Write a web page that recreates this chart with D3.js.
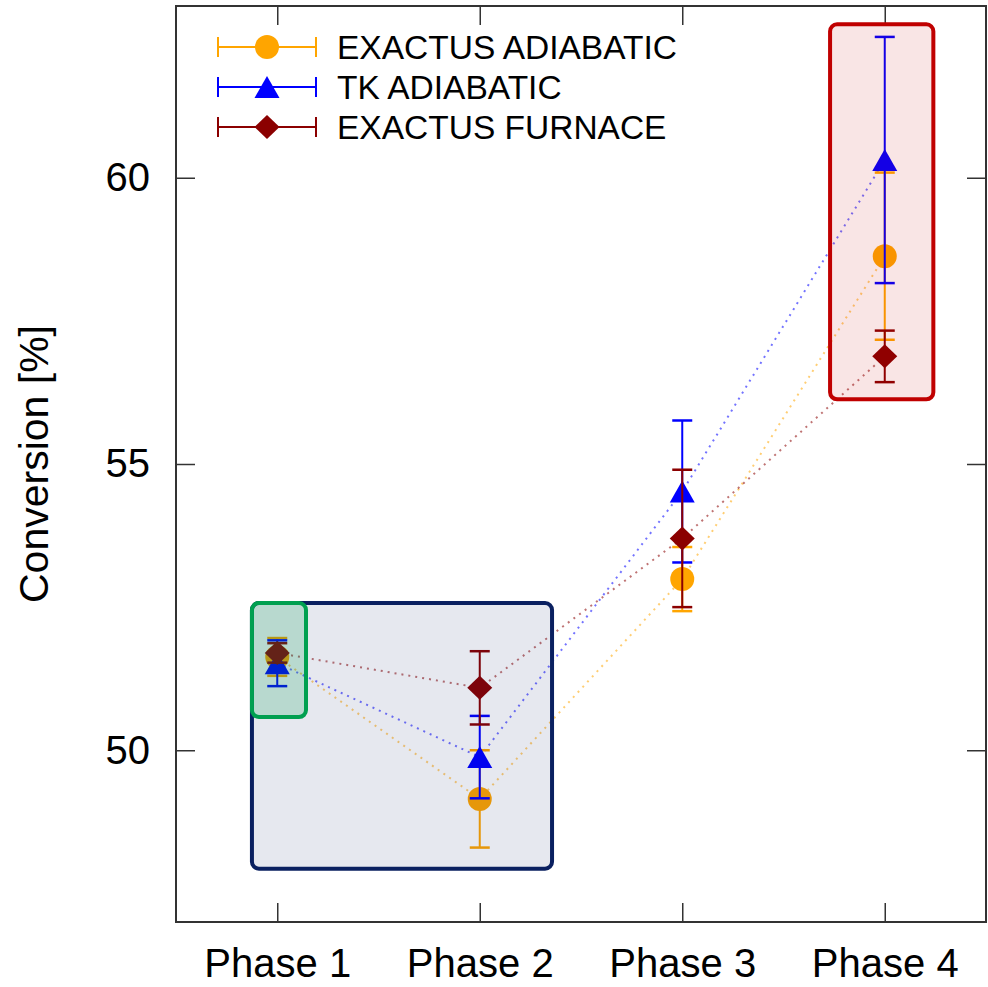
<!DOCTYPE html>
<html>
<head>
<meta charset="utf-8">
<script src="https://cdn.jsdelivr.net/npm/d3@7"></script>
<style>
  body { margin: 0; background: #fff; }
  text { font-family: "Liberation Sans", Arial, sans-serif; }
</style>
</head>
<body>
<svg width="988" height="987"></svg>
<script>
// data
var phases = ["Phase 1", "Phase 2", "Phase 3", "Phase 4"];
var seriesNames = ["EXACTUS ADIABATIC", "TK ADIABATIC", "EXACTUS FURNACE"];
var exactusAdiabatic = [51.63, 49.15, 52.99, 58.63];
var exactusAdiabaticErr = [0.33, 0.85, 0.56, 1.46];
var tkAdiabatic = [51.52, 49.88, 54.52, 60.31];
var tkAdiabaticErr = [0.40, 0.72, 1.24, 2.15];
var exactusFurnace = [51.70, 51.09, 53.70, 56.88];
var exactusFurnaceErr = [0.17, 0.64, 1.20, 0.45];
var yTicks = [50, 55, 60];

// highlight boxes in data units: x range, y range
var highlights = [
  {x: [0.875, 2.357], y: [47.93, 52.57], color: "#0a2060", op: 0.1},
  {x: [0.875, 1.142], y: [50.58, 52.57], color: "#00a050", op: 0.2},
  {x: [3.73, 4.24], y: [56.13, 62.68], color: "#c00000", op: 0.1}
];

var svg = d3.select("svg");
var plotLeft = 176, plotRight = 986, plotTop = 6, plotBottom = 922;

var x = d3.scaleLinear().domain([0.5, 4.5]).range([plotLeft, plotRight]);
var y = d3.scaleLinear().domain([47, 63]).range([plotBottom, plotTop]);

var series = [
  {name: seriesNames[0], vals: exactusAdiabatic, err: exactusAdiabaticErr, color: "#ffa500", shape: "circle"},
  {name: seriesNames[1], vals: tkAdiabatic, err: tkAdiabaticErr, color: "#0000ff", shape: "triangle"},
  {name: seriesNames[2], vals: exactusFurnace, err: exactusFurnaceErr, color: "#8b0000", shape: "diamond"}
];

function drawMarker(g, shape, color) {
  if (shape == "circle") {
    g.append("circle").attr("r", 12).attr("fill", color);
  } else if (shape == "triangle") {
    g.append("path").attr("d", "M0,-11L12.5,11L-12.5,11Z").attr("fill", color);
  } else {
    g.append("path").attr("d", "M0,-12L12.5,0L0,12L-12.5,0Z").attr("fill", color);
  }
}

// axes frame
svg.append("rect")
  .attr("x", plotLeft).attr("y", plotTop)
  .attr("width", plotRight - plotLeft).attr("height", plotBottom - plotTop)
  .attr("fill", "none").attr("stroke", "#333").attr("stroke-width", 2);

var xAxis = svg.append("g")
  .attr("transform", "translate(0," + plotBottom + ")")
  .call(d3.axisBottom(x).tickValues([1, 2, 3, 4]).tickSize(-19).tickPadding(27)
    .tickFormat(function(d) { return phases[d - 1]; }));
svg.append("g")
  .attr("transform", "translate(0," + plotTop + ")")
  .call(d3.axisTop(x).tickValues([1, 2, 3, 4]).tickSize(-19).tickFormat(""));
var yAxis = svg.append("g")
  .attr("transform", "translate(" + plotLeft + ",0)")
  .call(d3.axisLeft(y).tickValues(yTicks).tickSize(-19).tickPadding(26));
svg.append("g")
  .attr("transform", "translate(" + plotRight + ",0)")
  .call(d3.axisRight(y).tickValues(yTicks).tickSize(-19).tickFormat(""));

svg.selectAll(".domain").remove();
svg.selectAll(".tick line").attr("stroke", "#333").attr("stroke-width", 1.5);
xAxis.selectAll("text").attr("font-size", 40).attr("fill", "#000");
yAxis.selectAll("text").attr("font-size", 40).attr("fill", "#000");

svg.append("text")
  .attr("transform", "translate(48," + ((plotTop + plotBottom) / 2) + ") rotate(-90)")
  .attr("text-anchor", "middle")
  .attr("font-size", 41)
  .text("Conversion [%]");

// dotted connecting lines
var line = d3.line()
  .x(function(d, i) { return x(i + 1); })
  .y(function(d) { return y(d); });

series.forEach(function(s) {
  svg.append("path")
    .datum(s.vals)
    .attr("d", line)
    .attr("fill", "none")
    .attr("stroke", s.color)
    .attr("stroke-opacity", 0.55)
    .attr("stroke-width", 2)
    .attr("stroke-dasharray", "2,5");
});

// error bars and markers
series.forEach(function(s) {
  var g = svg.append("g");
  s.vals.forEach(function(v, i) {
    var cx = x(i + 1), lo = y(v - s.err[i]), hi = y(v + s.err[i]);
    g.append("line").attr("x1", cx).attr("x2", cx).attr("y1", lo).attr("y2", hi)
      .attr("stroke", s.color).attr("stroke-width", 2);
    [lo, hi].forEach(function(yy) {
      g.append("line").attr("x1", cx - 10).attr("x2", cx + 10).attr("y1", yy).attr("y2", yy)
        .attr("stroke", s.color).attr("stroke-width", 2.5);
    });
    var m = g.append("g").attr("transform", "translate(" + cx + "," + y(v) + ")");
    drawMarker(m, s.shape, s.color);
  });
});

// highlight boxes
highlights.forEach(function(h) {
  svg.append("rect")
    .attr("x", x(h.x[0])).attr("y", y(h.y[1]))
    .attr("width", x(h.x[1]) - x(h.x[0]))
    .attr("height", y(h.y[0]) - y(h.y[1]))
    .attr("rx", 7).attr("ry", 7)
    .attr("fill", h.color).attr("fill-opacity", h.op)
    .attr("stroke", h.color).attr("stroke-width", 4);
});

// legend
var legend = svg.append("g");
series.forEach(function(s, i) {
  var ly = 47 + i * 40;
  var g = legend.append("g").attr("transform", "translate(0," + ly + ")");
  g.append("line").attr("x1", 218).attr("x2", 316).attr("y1", 0).attr("y2", 0)
    .attr("stroke", s.color).attr("stroke-width", 2);
  [218, 316].forEach(function(xx) {
    g.append("line").attr("x1", xx).attr("x2", xx).attr("y1", -10).attr("y2", 10)
      .attr("stroke", s.color).attr("stroke-width", 2);
  });
  var m = g.append("g").attr("transform", "translate(267,0)");
  drawMarker(m, s.shape, s.color);
  g.append("text").attr("x", 337).attr("y", 12)
    .attr("font-size", 33.5).text(s.name);
});
</script>
</body>
</html>
